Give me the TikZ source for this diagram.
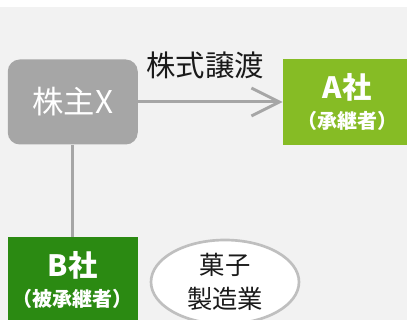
\documentclass[tikz,border=0pt]{standalone}
\usepackage{fontspec}
\newfontfamily\jp{Noto Sans CJK JP}
\usetikzlibrary{arrows.meta,shapes.geometric}
\definecolor{bgc}{HTML}{F2F2F2}
\definecolor{grayc}{HTML}{A6A6A6}
\definecolor{agreen}{HTML}{86BC25}
\definecolor{bgreen}{HTML}{2B8A12}
\definecolor{ellc}{HTML}{BFBFBF}
\definecolor{txt}{HTML}{1A1A1A}
\tikzset{
  xbox/.style={fill=grayc, rounded corners=9pt, minimum width=97.5pt, minimum height=63.75pt, inner sep=0pt, text=white, align=center},
  abox/.style={fill=agreen, minimum width=96pt, minimum height=64.5pt, inner sep=0pt, text=white, align=center},
  bbox/.style={fill=bgreen, minimum width=97.5pt, minimum height=64.5pt, inner sep=0pt, text=white, align=center},
  oval/.style={ellipse, draw=ellc, line width=2pt, fill=white, minimum width=111pt, minimum height=63pt, inner sep=0pt, text=txt, align=center},
  conn/.style={draw=grayc, line width=2.25pt},
  big/.style={font=\jp\fontsize{23.5}{24}\selectfont},
}
\begin{document}
\begin{tikzpicture}[x=0.75pt,y=-0.75pt]
\useasboundingbox (0,0) rectangle (407,320);
\fill[white] (0,0) rectangle (407,7);
\fill[bgc] (0,7) rectangle (407,320);
\node[xbox, big] (X) at (72.75,102) {株主X};
\node[abox] (A) at (347,102) {{\jp\bfseries\fontsize{22}{24}\selectfont A社}\\[7pt]{\jp\bfseries\fontsize{15}{16}\selectfont （承継者）}};
\node[bbox] (B) at (72.75,280) {{\jp\bfseries\fontsize{22}{24}\selectfont B社}\\[7pt]{\jp\bfseries\fontsize{15}{16}\selectfont （被承継者）}};
\node[oval] (E) at (225,282) {{\jp\fontsize{19}{24}\selectfont 菓子}\\[6.5pt]{\jp\fontsize{19}{24}\selectfont 製造業}};
\node[text=txt, font=\jp\fontsize{22}{24}\selectfont] (L) at (205,65) {株式譲渡};
\draw[conn, -{Straight Barb[length=21pt,width=21pt]}] (X.east) -- (A.west);
\draw[conn] (X.south) -- (B.north);
\end{tikzpicture}
\end{document}
